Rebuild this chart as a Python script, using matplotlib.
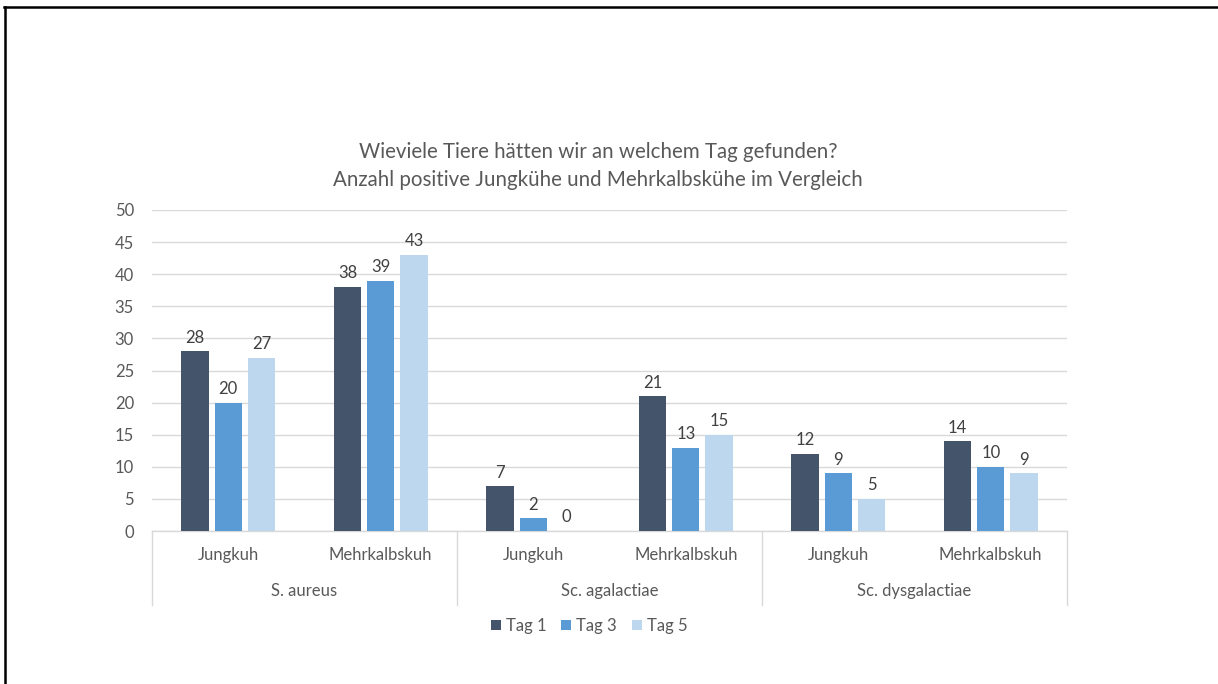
import matplotlib
matplotlib.use("Agg")
import matplotlib.pyplot as plt
from matplotlib.patches import Patch
from matplotlib.lines import Line2D
import numpy as np

plt.rcParams['font.family'] = ['Lato', 'DejaVu Sans']

# Data
groups = ["S. aureus", "Sc. agalactiae", "Sc. dysgalactiae"]
subgroups = ["Jungkuh", "Mehrkalbskuh"]
series_names = ["Tag 1", "Tag 3", "Tag 5"]
tag1 = [28, 38, 7, 21, 12, 14]
tag3 = [20, 39, 2, 13, 9, 10]
tag5 = [27, 43, 0, 15, 5, 9]
colors = ["#44546A", "#5B9BD5", "#BDD7EE"]
title_lines = ["Wieviele Tiere hätten wir an welchem Tag gefunden?",
               "Anzahl positive Jungkühe und Mehrkalbskühe im Vergleich"]

text_color = "#595959"
grid_color = "#D9D9D9"
fs = 12

fig = plt.figure(figsize=(12.18, 6.84), dpi=100)
W, H = 1218, 684
ax = fig.add_axes([152 / W, 1 - 531 / H, (1067 - 152) / W, (531 - 210) / H])

n = len(tag1)
x = np.arange(n)
bar_w = 0.178
step = 0.218
series = [tag1, tag3, tag5]
for i, (vals, c) in enumerate(zip(series, colors)):
    pos = x + (i - 1) * step
    ax.bar(pos, vals, width=bar_w, color=c, zorder=3)
    for xp, v in zip(pos, vals):
        ax.annotate(str(v), (xp, v), xytext=(0, 4), textcoords="offset points",
                    ha="center", va="bottom", fontsize=fs, color="#404040")

ax.set_xlim(-0.5, n - 0.5)
ax.set_ylim(0, 50)
ax.set_yticks(np.arange(0, 51, 5))
ax.yaxis.grid(True, color=grid_color, linewidth=1, zorder=0)
ax.set_axisbelow(True)
for s in ["top", "right", "left"]:
    ax.spines[s].set_visible(False)
ax.spines["bottom"].set_color(grid_color)
ax.spines["bottom"].set_linewidth(1)
ax.tick_params(axis="y", length=0, labelsize=fs, labelcolor=text_color, pad=13)
ax.tick_params(axis="x", length=0, labelbottom=False)

# Hierarchical category axis
trans = ax.get_xaxis_transform()
for i in range(n):
    ax.text(x[i], -0.074, subgroups[i % 2], transform=trans, ha="center",
            va="center", fontsize=fs, color=text_color)
for g, name in enumerate(groups):
    ax.text(2 * g + 0.5, -0.186, name, transform=trans, ha="center",
            va="center", fontsize=fs, color=text_color)
for b in [-0.5, 1.5, 3.5, 5.5]:
    ax.add_line(Line2D([b, b], [0, -0.232], transform=trans, color=grid_color,
                       linewidth=1, clip_on=False))

# Title
fig.text(598 / W, 1 - 152 / H, title_lines[0], ha="center", va="center",
         fontsize=14.8, color=text_color)
fig.text(598 / W, 1 - 180 / H, title_lines[1], ha="center", va="center",
         fontsize=14.8, color=text_color)

# Legend
handles = [Patch(facecolor=c, edgecolor="none") for c in colors]
fig.legend(handles, series_names, loc="center", bbox_to_anchor=(589 / W, 1 - 626 / H),
           ncol=3, frameon=False, fontsize=fs, labelcolor=text_color,
           handlelength=0.6, handleheight=0.6, handletextpad=0.3, columnspacing=0.9)

# Outer frame lines (top and left)
fig.add_artist(Line2D([4 / W, 1], [1 - 7 / H, 1 - 7 / H], transform=fig.transFigure,
                      color="black", linewidth=1.8))
fig.add_artist(Line2D([5 / W, 5 / W], [0, 1 - 7 / H], transform=fig.transFigure,
                      color="black", linewidth=1.8))

fig.savefig("out.png", dpi=100, facecolor="white")
